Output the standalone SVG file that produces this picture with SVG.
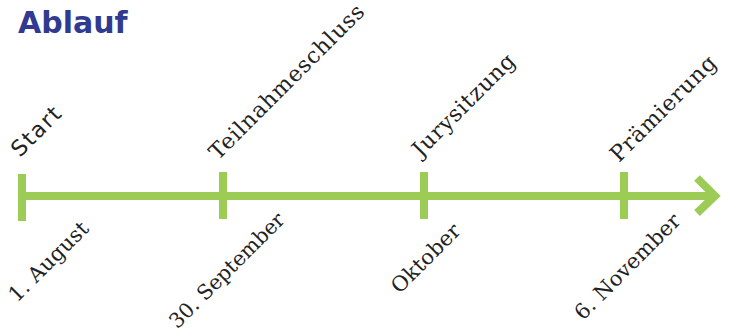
<svg xmlns="http://www.w3.org/2000/svg" width="737" height="335" viewBox="0 0 737 335">
<style>
.ln{stroke:#9ccc55;stroke-width:8;fill:none}
.ev{font-family:"DejaVu Serif","Liberation Serif",serif;font-size:22px;letter-spacing:0.8px;fill:#222}
.st{font-family:"DejaVu Sans","Liberation Sans",sans-serif;font-size:22px;letter-spacing:1.6px;fill:#222}
.dt{font-family:"DejaVu Serif","Liberation Serif",serif;font-size:21px;letter-spacing:0.2px;fill:#222;text-anchor:end}
</style>
<rect width="737" height="335" fill="#fff"/>
<text x="18" y="33" font-family="DejaVu Sans, sans-serif" font-weight="bold" font-size="30" fill="#2f3a90">Ablauf</text>
<g id="connectors">
<line class="ln" x1="22" y1="196" x2="716" y2="196"/>
<polyline class="ln" points="697,178 715,196 697,213"/>
</g>
<g id="n1">
<line class="ln" x1="22" y1="174" x2="22" y2="221"/>
<text class="st" transform="translate(20,158) rotate(-45)">Start</text>
<text class="dt" transform="translate(90,230) rotate(-45)">1. August</text>
</g>
<g id="n2">
<line class="ln" x1="223" y1="172" x2="223" y2="219"/>
<text class="ev" transform="translate(218,161) rotate(-45)">Teilnahmeschluss</text>
<text class="dt" transform="translate(286,221) rotate(-45)" style="font-size:20.5px;letter-spacing:0">30. September</text>
</g>
<g id="n3">
<line class="ln" x1="424" y1="172" x2="424" y2="219"/>
<text class="ev" transform="translate(421,158) rotate(-45)">Jurysitzung</text>
<text class="dt" transform="translate(462,232) rotate(-45)">Oktober</text>
</g>
<g id="n4">
<line class="ln" x1="624" y1="172" x2="624" y2="219"/>
<text class="ev" transform="translate(619,163) rotate(-45)">Prämierung</text>
<text class="dt" transform="translate(682,222) rotate(-45)">6. November</text>
</g>
</svg>
